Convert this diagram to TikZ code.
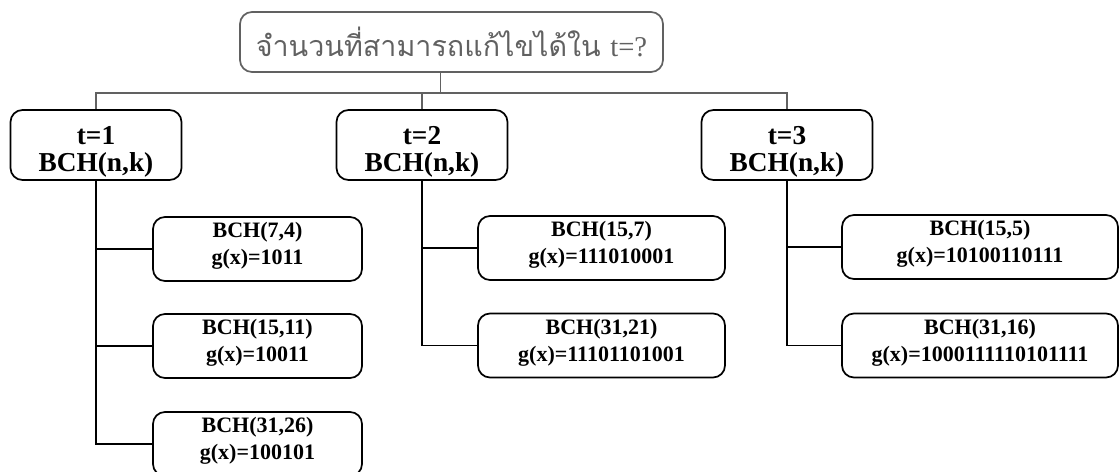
\documentclass[tikz,border=0pt]{standalone}
\usepackage{fontspec}
\setmainfont{Liberation Serif}
\newfontfamily\thaifont[Script=Thai]{Loma}
\usetikzlibrary{calc}
\definecolor{fade}{gray}{0.38}
\newcommand{\lvlstrut}{\rule{0pt}{24pt}}
\tikzset{
  box/.style={draw, line width=1.3pt, rounded corners=9pt, inner sep=0pt, align=center},
  topbox/.style={box, draw=fade, text=fade, minimum width=423*0.75pt, minimum height=60*0.75pt},
  levelbox/.style={box, minimum width=171*0.75pt, minimum height=70*0.75pt,
     font=\fontsize{20.5pt}{20pt}\selectfont\bfseries},
  leafbox/.style={box, minimum height=64*0.75pt,
     font=\fontsize{16.5pt}{20pt}\selectfont\bfseries,
     execute at end node={\rule[-8pt]{0pt}{0pt}}},
  link/.style={line width=1.3pt},
  fadelink/.style={line width=1.3pt, draw=fade}
}
\begin{document}
\begin{tikzpicture}[x=0.75pt,y=-0.75pt]
\useasboundingbox (0,0) rectangle (1120,471);
% top
\node[topbox] (top) at (451.5,42) {\fontsize{21.5pt}{22pt}\selectfont\thaifont จำนวนที่สามารถแก้ไขได้ใน \rmfamily t=?};
% level 1
\node[levelbox] (t1) at (96,145) {\lvlstrut t=1\\BCH(n,k)};
\node[levelbox] (t2) at (422,145) {\lvlstrut t=2\\BCH(n,k)};
\node[levelbox] (t3) at (787,145) {\lvlstrut t=3\\BCH(n,k)};
% leaves
\node[leafbox, minimum width=209*0.75pt] (c11) at (257.5,249) {BCH(7,4)\\g(x)=1011};
\node[leafbox, minimum width=209*0.75pt] (c12) at (257.5,346) {BCH(15,11)\\g(x)=10011};
\node[leafbox, minimum width=209*0.75pt] (c13) at (257.5,444) {BCH(31,26)\\g(x)=100101};
\node[leafbox, minimum width=247*0.75pt] (c21) at (601.5,248) {BCH(15,7)\\g(x)=111010001};
\node[leafbox, minimum width=247*0.75pt] (c22) at (601.5,345.5) {BCH(31,21)\\g(x)=11101101001};
\node[leafbox, minimum width=276*0.75pt] (c31) at (980,247) {BCH(15,5)\\g(x)=10100110111};
\node[leafbox, minimum width=276*0.75pt] (c32) at (980,345.5) {BCH(31,16)\\g(x)=1000111110101111};
% bus
\coordinate (bus) at (0,93);
\coordinate (topout) at ($(top.south)+(-11,0)$);
\draw[fadelink] (topout) -- (topout |- bus);
\draw[fadelink] (t1.north) -- (t1.north |- bus) -- (t3.north |- bus) -- (t3.north);
\draw[fadelink] (t2.north) -- (t2.north |- bus);
% branches
\draw[link] (t1.south) |- (c11.west);
\draw[link] (t1.south) |- (c12.west);
\draw[link] (t1.south) |- (c13.west);
\draw[link] (t2.south) |- (c21.west);
\draw[link] (t2.south) |- (c22.west);
\draw[link] (t3.south) |- (c31.west);
\draw[link] (t3.south) |- (c32.west);
\end{tikzpicture}
\end{document}
